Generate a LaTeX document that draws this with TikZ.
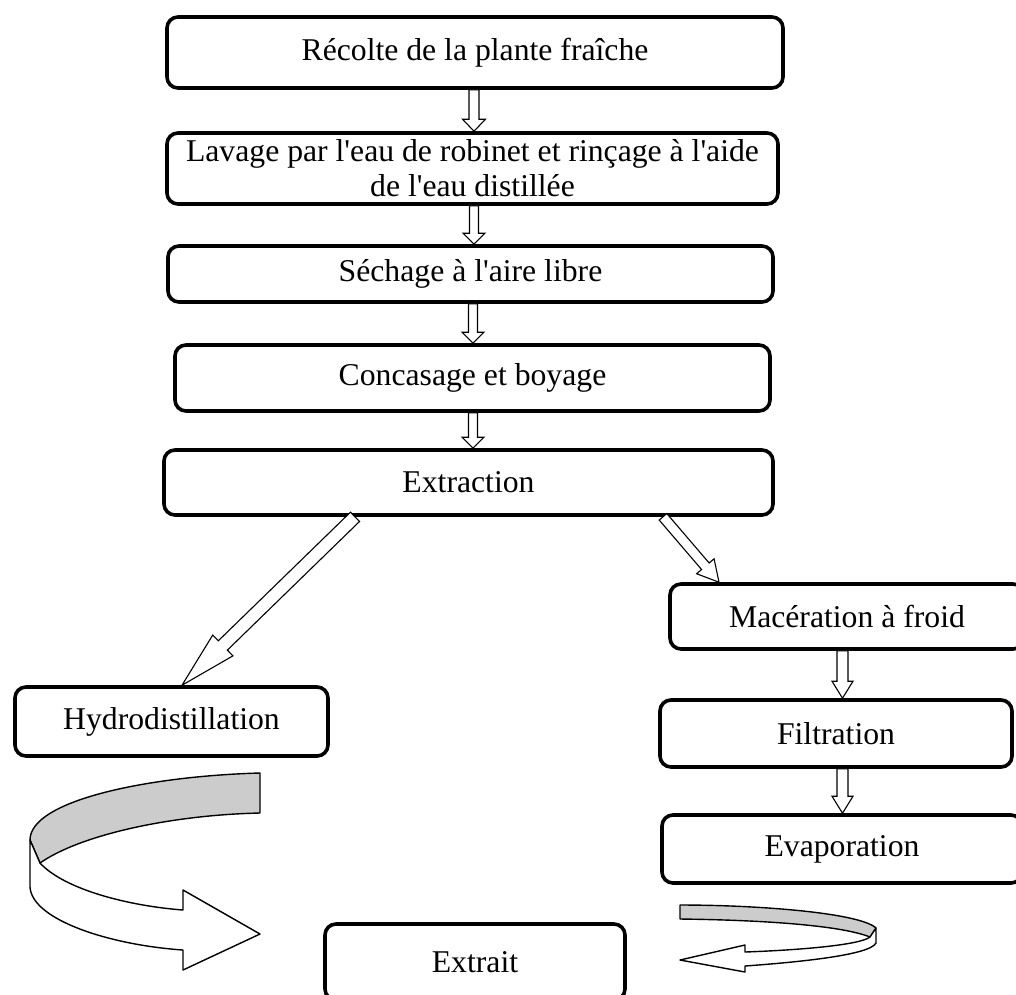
\documentclass[tikz,border=0pt]{standalone}
\usepackage{fontspec}
\setmainfont{Liberation Serif}
\usetikzlibrary{calc}
\definecolor{ribbon}{RGB}{204,204,204}
\newcommand\apos{\textquotesingle}
\tikzset{
  stepbox/.style={draw=black, line width=3.6pt, rounded corners=11pt, fill=white,
    inner sep=0pt, font=\fontsize{31.7}{35}\selectfont, align=center},
  blockarr/.style={draw=black, line width=1.1pt, fill=white, line join=miter},
  ribbonline/.style={draw=black, line width=1.4pt, line join=round},
}
% #1 name, #2 from, #3 to (tip), #4 shaft half width, #5 head half width, #6 head length
\newcommand\blockarrow[6]{%
  \coordinate (#1-c) at ($(#3)!#6!(#2)$);
  \draw[blockarr] ($(#2)!#4!90:(#3)$) -- ($(#1-c)!#4!90:(#3)$) -- ($(#1-c)!#5!90:(#3)$)
    -- (#3) -- ($(#1-c)!#5!-90:(#3)$) -- ($(#1-c)!#4!-90:(#3)$) -- ($(#2)!#4!-90:(#3)$) -- cycle;
}
\begin{document}
\begin{tikzpicture}[x=1pt,y=-1pt]
\useasboundingbox (0,0) rectangle (1016,994);

% main column
\node[stepbox, minimum width=616pt, minimum height=71pt] (b1) at (475,52.5) {Récolte de la plante fraîche};
\node[stepbox, minimum width=611pt, minimum height=71pt] (b2) at (472.5,168.5) {Lavage par l\apos eau de robinet et rinçage à l\apos aide\\de l\apos eau distillée};
\node[stepbox, minimum width=605pt, minimum height=56pt] (b3) at (470.5,274) {Séchage à l\apos aire libre};
\node[stepbox, minimum width=595pt, minimum height=66pt] (b4) at (472.5,378) {Concasage et boyage};
\node[stepbox, minimum width=609pt, minimum height=65pt] (b5) at (468.5,482.5) {Extraction};

% branches
\node[stepbox, minimum width=313pt, minimum height=69pt] (hy) at (171.5,721.5) {Hydrodistillation};
\node[stepbox, minimum width=354pt, minimum height=65pt] (ma) at (847,616.5) {Macération à froid};
\node[stepbox, minimum width=352pt, minimum height=67pt] (fi) at (836,733.5) {Filtration};
\node[stepbox, minimum width=360pt, minimum height=68pt] (ev) at (842,849) {Evaporation};
\node[stepbox, minimum width=300pt, minimum height=76pt] (ex) at (475,962) {Extrait};

% vertical block arrows
\blockarrow{a1}{b1.south -| 474,0}{b2.north -| 474,0}{5pt}{11.5pt}{12pt}
\blockarrow{a2}{b2.south -| 474,0}{b3.north -| 474,0}{4.5pt}{11pt}{11pt}
\blockarrow{a3}{b3.south -| 473,0}{b4.north -| 473,0}{4.5pt}{11pt}{11pt}
\blockarrow{a4}{b4.south -| 473,0}{b5.north -| 473,0}{4.5pt}{11pt}{11pt}
\blockarrow{a5}{ma.south -| 842.5,0}{fi.north -| 842.5,0}{5.5pt}{10.5pt}{17pt}
\blockarrow{a6}{fi.south -| 842.5,0}{ev.north -| 842.5,0}{5.5pt}{10.5pt}{17pt}

% diagonal block arrows
\blockarrow{d1}{b5.south -| 355,0}{hy.north -| 182,0}{6.5pt}{14.5pt}{57pt}
\blockarrow{d2}{b5.south -| 663,0}{ma.north -| 719,0}{5pt}{11.5pt}{21pt}

% left curved ribbon arrow
\filldraw[ribbonline, fill=ribbon] (260,773) .. controls (150,776) and (30,800) .. (30,840)
  -- (40,863) .. controls (80,835) and (170,815) .. (260,813) -- cycle;
\filldraw[ribbonline, fill=white] (30,840) -- (30,887) .. controls (32,920) and (110,945) .. (183,950)
  -- (183,970) -- (260,934) -- (183,890) -- (183,910) .. controls (130,906) and (65,890) .. (40,863) -- cycle;

% right curved ribbon arrow
\filldraw[ribbonline, fill=ribbon] (680,905) .. controls (760,905) and (860,913) .. (876,928)
  -- (870,937) .. controls (840,925) and (760,920) .. (680,919) -- cycle;
\filldraw[ribbonline, fill=white] (876,928) -- (876,943) .. controls (870,955) and (800,962) .. (745,966)
  -- (745,972) -- (680,960) -- (745,945) -- (745,952) .. controls (800,950) and (860,945) .. (870,937) -- cycle;
\end{tikzpicture}
\end{document}
